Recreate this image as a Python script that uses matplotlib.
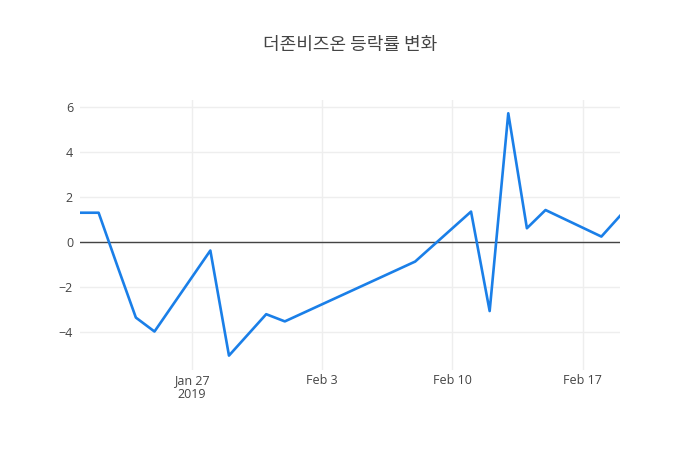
import matplotlib
matplotlib.use("Agg")
import matplotlib.pyplot as plt
import numpy as np

# daily change rate (%)
dates = ["2019-01-21", "2019-01-22", "2019-01-23", "2019-01-24", "2019-01-25",
         "2019-01-28", "2019-01-29", "2019-01-31", "2019-02-01", "2019-02-08",
         "2019-02-11", "2019-02-12", "2019-02-13", "2019-02-14", "2019-02-15",
         "2019-02-18", "2019-02-19"]
change = [1.30, 1.30, -1.05, -3.36, -3.98,
          -0.38, -5.05, -3.21, -3.53, -0.87,
          1.35, -3.07, 5.72, 0.61, 1.42,
          0.24, 1.16]
tick_dates = ["2019-01-27", "2019-02-03", "2019-02-10", "2019-02-17"]
tick_labels = ["Jan 27\n2019", "Feb 3", "Feb 10", "Feb 17"]
title = "더존비즈온 등락률 변화"

x = np.array(dates, dtype="datetime64[D]")

plt.rcParams['font.family'] = ['Open Sans', 'DejaVu Sans']

fig = plt.figure(figsize=(7, 4.5), dpi=100)
ax = fig.add_axes([80/700, 80/450, 540/700, 270/450])

ax.plot(x, change, color='#1a7fe8', lw=1.9, zorder=3)
ax.axhline(0, color='#444444', lw=1, zorder=2)

ax.set_xlim(x[0], x[-1])
ax.set_ylim(-5.69, 6.31)

ax.set_yticks([-4, -2, 0, 2, 4, 6])
ax.set_xticks(np.array(tick_dates, dtype="datetime64[D]"))
ax.set_xticklabels(tick_labels)

ax.grid(True, color='#eeeeee', lw=1, zorder=0)
for s in ax.spines.values():
    s.set_visible(False)
ax.tick_params(length=0, labelsize=9, labelcolor='#444444', pad=5)
ax.tick_params(axis='x', pad=3)
for lab in ax.get_xticklabels():
    lab.set_linespacing(1.05)

fig.text(0.5, 1 - 45/450, title, ha='center', va='center', fontsize=13,
         color='#444444', family=['Noto Sans CJK KR', 'DejaVu Sans'])

fig.savefig("out.png", dpi=100)
